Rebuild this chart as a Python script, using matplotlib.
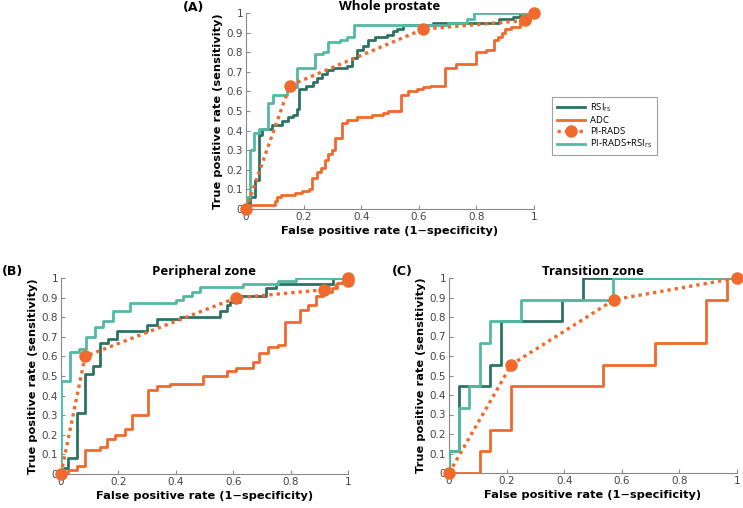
import matplotlib
matplotlib.use("Agg")
import matplotlib.pyplot as plt
import numpy as np

# ---------------- data (step ROC corners: fpr where the curve rises, tpr after rise) ----
# Panel A: Whole prostate
A_rsi_fpr = [0, 0, 0.014, 0.031, 0.046, 0.054, 0.089, 0.124, 0.147, 0.164, 0.176, 0.185, 0.21, 0.234,
             0.245, 0.263, 0.28, 0.303, 0.35, 0.367, 0.384, 0.407, 0.425, 0.448, 0.488, 0.512, 0.523,
             0.546, 0.65, 0.88, 0.928, 0.951, 1.0]
A_rsi_tpr = [0, 0.03, 0.06, 0.15, 0.38, 0.41, 0.43, 0.45, 0.47, 0.48, 0.51, 0.61, 0.63, 0.65,
             0.67, 0.69, 0.71, 0.72, 0.73, 0.77, 0.81, 0.83, 0.86, 0.88, 0.89, 0.91, 0.92,
             0.94, 0.95, 0.97, 0.98, 1.0, 1.0]
A_adc_fpr = [0, 0, 0.10, 0.108, 0.12, 0.17, 0.193, 0.22, 0.228, 0.245, 0.259, 0.274, 0.286, 0.297,
             0.31, 0.332, 0.35, 0.384, 0.436, 0.477, 0.494, 0.538, 0.564, 0.593, 0.613, 0.639, 0.69,
             0.73, 0.80, 0.835, 0.86, 0.874, 0.888, 0.90, 0.92, 0.951, 0.986, 1.0]
A_adc_tpr = [0, 0.02, 0.04, 0.06, 0.07, 0.08, 0.09, 0.10, 0.16, 0.19, 0.21, 0.25, 0.28, 0.30,
             0.36, 0.44, 0.455, 0.47, 0.48, 0.49, 0.50, 0.58, 0.60, 0.61, 0.62, 0.63, 0.72,
             0.74, 0.80, 0.81, 0.86, 0.88, 0.90, 0.92, 0.93, 0.965, 1.0, 1.0]
A_comb_fpr = [0, 0, 0.014, 0.029, 0.046, 0.078, 0.093, 0.144, 0.176, 0.24, 0.269, 0.286, 0.326,
              0.35, 0.375, 0.70, 0.766, 0.79, 1.0]
A_comb_tpr = [0, 0.06, 0.30, 0.39, 0.41, 0.54, 0.58, 0.62, 0.72, 0.79, 0.80, 0.85, 0.86,
              0.88, 0.94, 0.95, 0.97, 1.0, 1.0]
A_pir_fpr = [0, 0.152, 0.616, 0.969, 1.0]
A_pir_tpr = [0, 0.63, 0.918, 0.962, 1.0]

# Panel B: Peripheral zone
B_rsi_fpr = [0, 0.01, 0.026, 0.057, 0.083, 0.11, 0.136, 0.165, 0.194, 0.30, 0.333, 0.414, 0.553,
             0.577, 0.59, 0.623, 0.716, 0.75, 0.948, 1.0]
B_rsi_tpr = [0, 0.03, 0.08, 0.31, 0.51, 0.55, 0.67, 0.69, 0.73, 0.76, 0.79, 0.80, 0.83,
             0.86, 0.88, 0.91, 0.95, 0.97, 1.0, 1.0]
B_adc_fpr = [0, 0.026, 0.057, 0.083, 0.136, 0.161, 0.188, 0.223, 0.249, 0.302, 0.333, 0.379, 0.496,
             0.58, 0.61, 0.67, 0.69, 0.72, 0.757, 0.78, 0.832, 0.862, 0.89, 0.914, 0.943, 0.96,
             0.995, 1.0]
B_adc_tpr = [0, 0.02, 0.04, 0.12, 0.14, 0.18, 0.20, 0.23, 0.30, 0.43, 0.45, 0.46, 0.50,
             0.525, 0.54, 0.57, 0.615, 0.65, 0.66, 0.775, 0.835, 0.86, 0.91, 0.93, 0.95, 0.975,
             1.0, 1.0]
B_comb_fpr = [0, 0, 0.033, 0.062, 0.088, 0.117, 0.146, 0.181, 0.239, 0.40, 0.426, 0.455, 0.484,
              0.635, 0.757, 0.82, 1.0]
B_comb_tpr = [0, 0.475, 0.62, 0.64, 0.70, 0.75, 0.78, 0.83, 0.875, 0.89, 0.91, 0.93, 0.955,
              0.97, 0.985, 1.0, 1.0]
B_pir_fpr = [0, 0.084, 0.609, 0.915, 1.0, 1.0]
B_pir_tpr = [0, 0.60, 0.898, 0.94, 0.985, 1.0]

# Panel C: Transition zone
C_rsi_fpr = [0, 0, 0.036, 0.143, 0.179, 0.393, 0.464, 1.0]
C_rsi_tpr = [0, 0.111, 0.444, 0.556, 0.778, 0.889, 1.0, 1.0]
C_adc_fpr = [0, 0.107, 0.143, 0.214, 0.536, 0.714, 0.893, 0.964, 1.0]
C_adc_tpr = [0, 0.111, 0.222, 0.444, 0.556, 0.667, 0.889, 1.0, 1.0]
C_comb_fpr = [0, 0, 0.036, 0.071, 0.107, 0.143, 0.25, 0.571, 1.0]
C_comb_tpr = [0, 0.111, 0.333, 0.444, 0.667, 0.778, 0.889, 1.0, 1.0]
C_pir_fpr = [0, 0.217, 0.574, 1.0]
C_pir_tpr = [0, 0.556, 0.889, 1.0]

ticks = [0, 0.1, 0.2, 0.3, 0.4, 0.5, 0.6, 0.7, 0.8, 0.9, 1]
xticks = [0, 0.2, 0.4, 0.6, 0.8, 1]
tick_labels_y = ['0', '0.1', '0.2', '0.3', '0.4', '0.5', '0.6', '0.7', '0.8', '0.9', '1']
tick_labels_x = ['0', '0.2', '0.4', '0.6', '0.8', '1']

labels = ['RSI$_\\mathregular{rs}$', 'ADC', 'PI-RADS', 'PI-RADS+RSI$_\\mathregular{rs}$']
titles = ['Whole prostate', 'Peripheral zone', 'Transition zone']
panel_tags = ['(A)', '(B)', '(C)']

DARK = '#2c7363'
ORANGE = '#f06a2e'
LIGHT = '#52b9a3'
GRAY = '#8a8a8a'

W, H = 743, 508
fig = plt.figure(figsize=(W / 100, H / 100), dpi=100)

# axes boxes in pixels: left, top, right, bottom
boxes = [(246, 13, 534, 209), (61, 278, 348, 474), (449, 278, 737, 473)]
tag_pos = [(183, 1), (2, 265), (392, 265)]

data = [
    (A_rsi_fpr, A_rsi_tpr, A_adc_fpr, A_adc_tpr, A_pir_fpr, A_pir_tpr, A_comb_fpr, A_comb_tpr),
    (B_rsi_fpr, B_rsi_tpr, B_adc_fpr, B_adc_tpr, B_pir_fpr, B_pir_tpr, B_comb_fpr, B_comb_tpr),
    (C_rsi_fpr, C_rsi_tpr, C_adc_fpr, C_adc_tpr, C_pir_fpr, C_pir_tpr, C_comb_fpr, C_comb_tpr),
]

handles = None
for i, (box, d) in enumerate(zip(boxes, data)):
    l, t, r, b = box
    ax = fig.add_axes([l / W, 1 - b / H, (r - l) / W, (b - t) / H])
    rf, rt, af, at, pf, pt, cf, ct = d
    h1, = ax.plot(rf, rt, drawstyle='steps-post', color=DARK, lw=2.0, zorder=3)
    h2, = ax.plot(af, at, drawstyle='steps-post', color=ORANGE, lw=2.0, zorder=2)
    h4, = ax.plot(cf, ct, drawstyle='steps-post', color=LIGHT, lw=2.0, zorder=4)
    h3, = ax.plot(pf, pt, linestyle=(0, (1.0, 1.2)), color=ORANGE, lw=2.4, marker='o',
                  markersize=8, markerfacecolor=ORANGE, markeredgecolor=ORANGE, zorder=5,
                  clip_on=False)
    handles = [h1, h2, h3, h4]
    ax.set_xlim(0, 1)
    ax.set_ylim(0, 1)
    ax.set_xticks(xticks)
    ax.set_xticklabels(tick_labels_x)
    ax.set_yticks(ticks)
    ax.set_yticklabels(tick_labels_y)
    for s in ['top', 'right']:
        ax.spines[s].set_visible(False)
    for s in ['left', 'bottom']:
        ax.spines[s].set_color(GRAY)
        ax.spines[s].set_linewidth(0.8)
    ax.tick_params(direction='in', length=3, width=0.8, color=GRAY, labelcolor='#444444',
                   labelsize=7.5, pad=2)
    ax.set_xlabel('False positive rate (1\u2212specificity)', fontsize=8.2, fontweight='bold',
                  family='DejaVu Sans', labelpad=3)
    ax.set_ylabel('True positive rate (sensitivity)', fontsize=8.2, fontweight='bold',
                  family='DejaVu Sans', labelpad=3)
    ax.set_title(titles[i], fontsize=9.5, fontweight='bold', family='Open Sans', pad=2)
    fig.text(tag_pos[i][0] / W, 1 - tag_pos[i][1] / H, panel_tags[i], fontsize=9,
             fontweight='bold', family='DejaVu Sans', va='top', ha='left')

leg = fig.legend(handles, labels, loc='upper left', bbox_to_anchor=(552 / W, 1 - 97 / H),
                 borderaxespad=0, frameon=True, fancybox=False, edgecolor=GRAY,
                 prop={'family': 'Open Sans', 'size': 6.8}, handlelength=3.0,
                 handletextpad=0.5, labelspacing=0.2, borderpad=0.5)
leg.get_frame().set_linewidth(0.8)

fig.savefig('out.png', dpi=100)
